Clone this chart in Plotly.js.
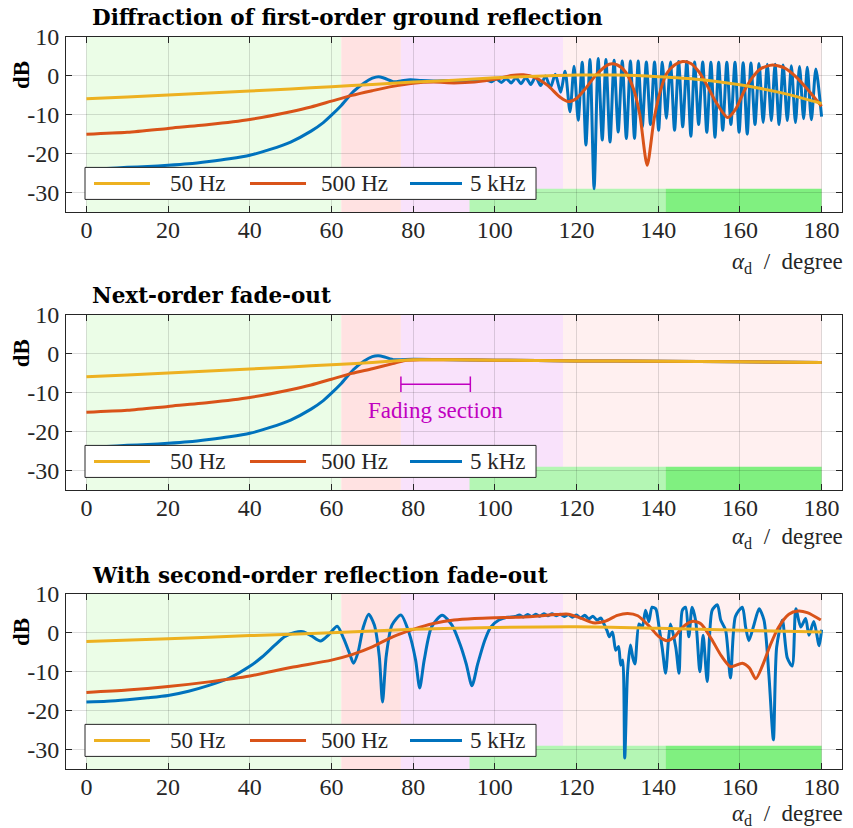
<!DOCTYPE html>
<html><head><meta charset="utf-8">
<script src="https://cdn.plot.ly/plotly-3.0.1.min.js"></script>
<style>body{margin:0;background:#fff}#chart{width:853px;height:828px}</style>
</head><body><div id="chart"></div>
<script>
// ---------- DATA ----------
const seriesNames = ['50 Hz', '500 Hz', '5 kHz'];
const panelTitles = ['Diffraction of first-order ground reflection', 'Next-order fade-out', 'With second-order reflection fade-out'];
const xTicks = [0, 20, 40, 60, 80, 100, 120, 140, 160, 180];
const yTicks = [10, 0, -10, -20, -30];
const yTickText = ['10', '0', '-10', '-20', '-30'];

// background zones (degree)
const zoneEdges = [0, 62.4, 77, 116.7, 180];
const greenBarEdges = [93.8, 141.8, 180];
const greenBarTop = -29;
const fadeX = [77, 94];
const fadeY = -7.8;

// Panel 1
const x50Top = [0,10,20,30,40,50,60,70,80,90,100,110,120,130,140,150,160,170,180];
const y50Top = [-5.9,-5.4,-4.9,-4.4,-3.9,-3.35,-2.8,-2.2,-1.6,-1.1,-0.5,-0.1,0.2,0.2,-0.2,-0.9,-2.3,-4.3,-7.1];
const x500Top = [0,10,20,30,40,50,55,60,65,70,75,80,85,90,95,100,104,107,110,113,116,118,120,122,125,128,130,132,134,135.5,137.3,139,140.5,142,144,146,148,150,152,154,157,159,161,163,165,168,171,174,177,180];
const y500Top = [-15,-14.5,-13.5,-12.5,-11.2,-9.2,-8,-6.5,-5,-3.8,-2.7,-1.9,-1.6,-1.8,-1.6,-0.9,0.1,0.3,-0.5,-2.5,-5.5,-6.6,-5.8,-3.5,0.5,3.0,2.8,1.0,-3.5,-10,-23,-11,-4,0.5,2.8,3.7,3.2,1.0,-2.5,-6.5,-10.7,-8.5,-4,-0.5,1.8,2.8,2.0,-0.5,-4,-7.8];
const x5kTop = [0,5,10,15,20,25,30,35,40,45,50,55,58,60,62.4,65.4,68,70,71.5,73,75.3,77,79.3,82,85,90,95,98,
  99.2,100.4,101.6,102.8,104,105.2,106.4,107.6,108.8,110,111.2,112.4,113.6,114.8,116.1,117.2,
  118.4,119.4,120.4,121.4,122.3,123.3,124.3,125.3,126.3,127.2,128.2,129.2,130.2,131.2,132.2,133.2,134.2,135.1,136.1,137.1,138.1,139.1,140.1,141.0,142.0,143.0,144.0,145.0,146.0,147.0,148.0,148.9,149.9,150.9,151.9,152.9,153.9,154.8,155.8,156.8,157.8,158.8,159.8,160.8,161.8,162.7,163.7,164.7,165.7,166.7,167.7,168.6,169.6,170.6,171.6,172.6,173.6,174.6,175.6,176.5,177.5,178.6,180];
const y5kTop = [-24.0,-23.8,-23.5,-23.3,-23.0,-22.6,-22.0,-21.3,-20.4,-18.9,-17.0,-14.2,-12.0,-10.1,-7.6,-4.0,-1.8,-0.6,-0.2,-0.6,-1.5,-1.3,-1.0,-1.2,-1.3,-1.2,-1.3,-1.1,
  -1.5,-0.8,-1.7,-0.7,-1.8,-0.5,-2.0,-0.4,-2.2,-0.2,-2.5,0.0,-3.0,0.4,-4.2,1.2,
  -9.2,2.5,-11.4,3.5,-17.8,4.2,-29,4.5,-16.5,4.2,-17,4.0,-14.4,3.8,-16.1,3.8,-16.1,3.8,-13.1,3.6,-12.5,3.6,-14,3.5,-10.9,3.6,-14,3.7,-13.1,3.7,-15.5,3.6,-12.5,3.6,-14.5,3.5,-15.8,3.5,-14,3.5,-12.5,3.5,-14.5,3.4,-15,3.3,-12.5,3.2,-12,3.0,-11.5,3.0,-12.5,2.8,-11.5,2.6,-12,2.4,-11,2.2,-11.3,1.8,-10.5];

// Panel 2
const x50Mid = [0,10,20,30,40,50,60,70,77,80,90,100,120,140,160,180];
const y50Mid = [-5.9,-5.4,-4.9,-4.4,-3.9,-3.35,-2.8,-2.2,-1.7,-1.5,-1.5,-1.6,-1.8,-1.9,-2.0,-2.2];
const x500Mid = [0,10,20,30,40,50,55,60,65,70,75,78,82,90,100,120,140,160,180];
const y500Mid = [-15,-14.5,-13.5,-12.5,-11.2,-9.2,-8,-6.5,-5,-3.8,-2.5,-1.7,-1.5,-1.5,-1.6,-1.8,-1.9,-2.0,-2.2];
const x5kMid = [0,5,10,15,20,25,30,35,40,45,50,55,58,60,62.4,65.4,68,70,71.5,73,75.3,77,80,90,100,120,140,160,180];
const y5kMid = [-24.0,-23.8,-23.5,-23.3,-23.0,-22.6,-22.0,-21.3,-20.4,-18.9,-17.0,-14.2,-12.0,-10.1,-7.6,-4.0,-1.8,-0.7,-0.5,-0.8,-1.5,-1.5,-1.4,-1.5,-1.6,-1.8,-1.9,-2.0,-2.2];

// Panel 3
const x50Bot = [0,20,40,60,80,100,120,140,160,180];
const y50Bot = [-2.2,-1.5,-0.7,0.0,0.9,1.4,1.6,1.2,0.7,0.2];
const x500Bot = [0,10,20,30,40,50,60,65,70,75,80,85,90,95,100,105,110,115,118,121,124,127,130,132.5,135,138,140,142.2,144,146,148.5,150.5,153,155.5,157.7,160.6,162.3,163.9,165.5,167.5,169.5,172,174.2,176.5,179.8];
const y500Bot = [-15.3,-14.7,-13.8,-12.6,-11.1,-8.9,-7.0,-5.6,-3.6,-1.0,0.9,2.4,3.3,3.7,3.9,4.0,4.3,4.7,4.8,3.8,2.6,3.0,4.5,5.0,4.4,1.5,-0.8,-2.0,-1.0,1.5,3.0,2.3,-1.5,-6.0,-8.7,-7.8,-9,-11.8,-8.5,-3,1.5,4.8,5.6,5.2,3.3];
const x5kBot = [0,5,10,15,20,25,30,35,40,43,46,48.5,51,53,55,57.3,59.3,61.4,63,64.5,65.4,66.5,67.8,69.1,70.5,71.7,72.5,73.4,74.8,77.0,79,80.6,81.6,82.7,84.5,87.1,89.5,91.5,93,94.4,95.8,97.5,99,101,103,105,
  106,107,108,109,110,111,112,113,114,115,116,117,118,119,120,121,122,123,124,125,126,126.7,127.5,128,128.8,129.6,130.3,130.8,131.3,131.8,132.5,133.2,133.8,134.3,135.3,136.1,136.9,137.7,138.5,139.4,140.2,141.0,141.8,142.5,143,144.3,145.1,145.9,146.7,147.5,148.3,149.2,150.2,151.0,152.0,153.2,154.5,155.3,156.5,157.7,158.9,160.6,161.4,162.2,163.5,164.7,165.9,167.1,168.2,169,170.4,171.6,172.8,173.7,174.9,176.1,176.9,178.1,179.4,180];
const y5kBot = [-17.8,-17.6,-17.2,-16.7,-16.1,-15.0,-13.5,-11.6,-8.6,-6.2,-3.3,-1.0,0.1,0.3,-0.7,-2.1,-0.5,1.7,-1.5,-5.5,-7.8,-5,1.5,4.8,2,-6,-17.8,-6,2,4.6,0,-7,-14.2,-7,1.5,4.5,2,-3,-8,-13.6,-8,-2,1.5,3.3,4.0,4.2,
  4.6,4.1,4.7,4.2,4.8,4.3,4.9,4.4,4.9,4.4,4.8,4.2,4.7,4.0,4.6,3.8,4.5,3.6,4.3,3.3,3.8,2.3,0.5,-1.0,0.2,-4.5,-3.5,-8.3,-7,-32.2,-10,-3.1,-6.5,-8,2.3,1.5,5.8,2.9,6.6,6.2,1.5,-4,-10.4,-2,2.3,-3.7,-10.4,5.8,6.6,-1.0,6.6,2.9,-10,-0.6,-12.5,5.8,7.2,3.3,0.7,-11.6,4.2,6.6,1.5,-2.0,2.3,6.2,3.3,-10.8,-27.5,-3.7,3.3,-6.4,-8.5,6.2,1.5,3.7,-0.6,2.9,-3.3,0.8];

// ---------- STYLE ----------
const colors = {'50 Hz': '#EDB120', '500 Hz': '#D95319', '5 kHz': '#0072BD'};
const zoneColors = ['#ebfde7', '#ffe2e2', '#f9e2fb', '#fff0f0'];
const greenBarColors = ['#b4f6b4', '#80f080'];
const FONT = "'Liberation Serif', 'Times New Roman', serif";
const TITLEFONT = "'DejaVu Serif', serif";
const TXT = '#262626';

const panels = [
  [[x5kTop, y5kTop], [x500Top, y500Top], [x50Top, y50Top]],
  [[x5kMid, y5kMid], [x500Mid, y500Mid], [x50Mid, y50Mid]],
  [[x5kBot, y5kBot], [x500Bot, y500Bot], [x50Bot, y50Bot]]
];
const drawOrder = ['5 kHz', '500 Hz', '50 Hz'];
const axSuffix = ['', '2', '3'];

const traces = [];
panels.forEach((p, pi) => {
  p.forEach((d, si) => {
    traces.push({
      x: d[0], y: d[1], type: 'scatter', mode: 'lines', name: drawOrder[si], showlegend: false,
      line: {color: colors[drawOrder[si]], width: 3, shape: 'spline', smoothing: 0.7},
      xaxis: 'x' + axSuffix[pi], yaxis: 'y' + axSuffix[pi], hoverinfo: 'skip'
    });
  });
});

const M = {l: 66, r: 11, t: 37, b: 59};
const domains = [[0.7609, 1], [0.3811, 0.6202], [0, 0.2391]];
const titleY = [1.0273, 0.6462, 0.2637];
const xTitleY = [0.6913, 0.3156, -0.0628];
const dbY = [0.948, 0.568, 0.187];

// legend geometry (fractions of the axis domain)
const legBox = {x0: 0.0245, x1: 0.6057, y0: 0.072, y1: 0.255};
const legLines = [[0.0361, 0.1082], [0.2371, 0.3093], [0.4433, 0.5103]];
const legText = [0.1320, 0.3265, 0.5180];

const layout = {
  width: 853, height: 828, margin: M,
  paper_bgcolor: '#fff', plot_bgcolor: '#fff',
  font: {family: FONT, color: TXT, size: 24},
  showlegend: false,
  shapes: [], annotations: []
};

panels.forEach((p, pi) => {
  const s = axSuffix[pi];
  const xr = 'x' + s, yr = 'y' + s;
  layout['xaxis' + s] = {
    anchor: yr, domain: [0, 1], range: [-5, 185],
    tickvals: xTicks, ticks: 'inside', ticklen: 6, tickcolor: TXT, tickwidth: 1,
    showline: true, linecolor: TXT, linewidth: 1, mirror: 'ticks',
    showgrid: true, gridcolor: 'rgba(0,0,0,0.13)', gridwidth: 1, zeroline: false,
    tickfont: {family: FONT, size: 24, color: TXT}, ticklabelstandoff: -4, fixedrange: true
  };
  layout['yaxis' + s] = {
    anchor: xr, domain: domains[pi], range: [-35, 10],
    tickvals: yTicks, ticktext: yTickText, ticks: 'inside', ticklen: 6, tickcolor: TXT, tickwidth: 1,
    showline: true, linecolor: TXT, linewidth: 1, mirror: 'ticks',
    showgrid: true, gridcolor: 'rgba(0,0,0,0.13)', gridwidth: 1, zeroline: false,
    tickfont: {family: FONT, size: 24, color: TXT}, ticklabelstandoff: 1, fixedrange: true
  };
  for (let i = 0; i < zoneColors.length; i++) {
    layout.shapes.push({type: 'rect', layer: 'below', xref: xr, yref: yr + ' domain',
      x0: zoneEdges[i], x1: zoneEdges[i + 1], y0: 0, y1: 1, fillcolor: zoneColors[i], line: {width: 0}});
  }
  for (let i = 0; i < greenBarColors.length; i++) {
    layout.shapes.push({type: 'rect', layer: 'below', xref: xr, yref: yr,
      x0: greenBarEdges[i], x1: greenBarEdges[i + 1], y0: -35, y1: greenBarTop, fillcolor: greenBarColors[i], line: {width: 0}});
  }
  // legend box
  layout.shapes.push({type: 'rect', layer: 'above', xref: xr + ' domain', yref: yr + ' domain',
    x0: legBox.x0, x1: legBox.x1, y0: legBox.y0, y1: legBox.y1, fillcolor: '#fff', line: {color: TXT, width: 1}});
  const legMid = (legBox.y0 + legBox.y1) / 2;
  seriesNames.forEach((nm, k) => {
    layout.shapes.push({type: 'line', layer: 'above', xref: xr + ' domain', yref: yr + ' domain',
      x0: legLines[k][0], x1: legLines[k][1], y0: legMid, y1: legMid, line: {color: colors[nm], width: 3}});
    layout.annotations.push({xref: xr + ' domain', yref: yr + ' domain', x: legText[k], y: legMid,
      xanchor: 'left', yanchor: 'middle', text: nm, showarrow: false, font: {family: FONT, size: 23, color: TXT}});
  });
  layout.annotations.push({xref: 'paper', yref: 'paper', x: 0.0309, y: titleY[pi], xanchor: 'left', yanchor: 'middle',
    text: '<b>' + panelTitles[pi] + '</b>', showarrow: false, font: {family: TITLEFONT, size: 21.5, color: '#000'}});
  layout.annotations.push({xref: 'paper', yref: 'paper', x: 1.004, y: xTitleY[pi], xanchor: 'right', yanchor: 'middle',
    text: '<i>α</i><sub>d</sub>&nbsp;&nbsp;/&nbsp;&nbsp;degree', showarrow: false, font: {family: FONT, size: 23, color: TXT}});
  layout.annotations.push({xref: 'paper', yref: 'paper', x: -0.058, y: dbY[pi], xanchor: 'center', yanchor: 'middle',
    text: '<b>dB</b>', textangle: -90, showarrow: false, font: {family: FONT, size: 23, color: '#000'}});
});

// Fading section marker (middle panel)
const fadeColor = '#c000c0';
layout.shapes.push({type: 'line', xref: 'x2', yref: 'y2', x0: fadeX[0], x1: fadeX[1], y0: fadeY, y1: fadeY, line: {color: fadeColor, width: 1.5}});
fadeX.forEach(fx => layout.shapes.push({type: 'line', xref: 'x2', yref: 'y2', x0: fx, x1: fx, y0: fadeY - 2, y1: fadeY + 2, line: {color: fadeColor, width: 1.5}}));
layout.annotations.push({xref: 'x2', yref: 'y2', x: (fadeX[0] + fadeX[1]) / 2, y: -14.6, text: 'Fading section', showarrow: false,
  font: {family: FONT, size: 23, color: fadeColor}});

Plotly.newPlot('chart', traces, layout, {displayModeBar: false, staticPlot: true});
</script></body></html>
